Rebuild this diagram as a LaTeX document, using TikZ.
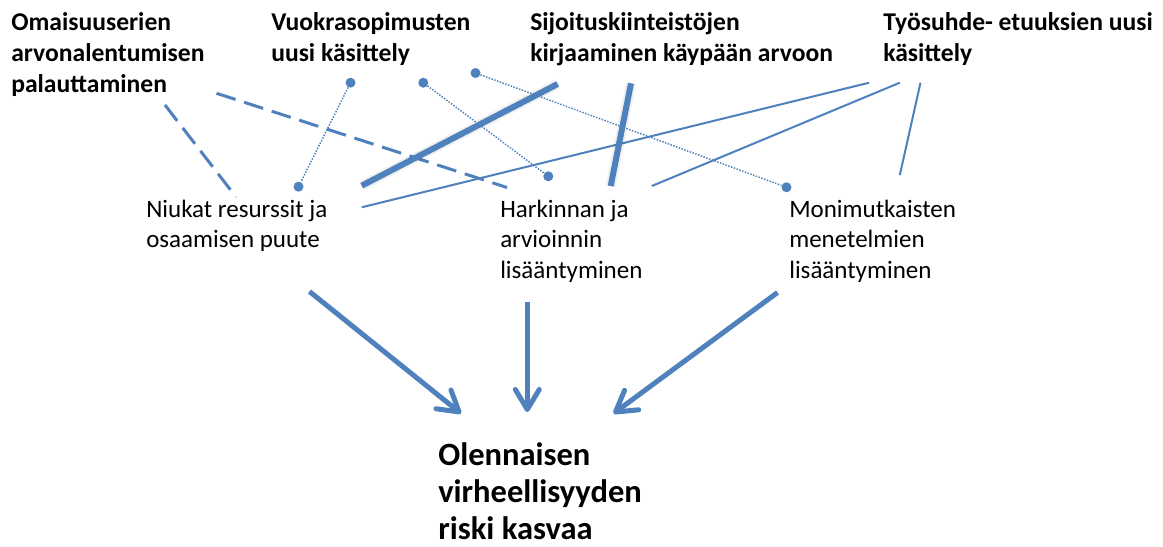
\documentclass[tikz,border=0pt]{standalone}
\usepackage{fontspec}
\setmainfont{Carlito}
\usetikzlibrary{arrows.meta}
\definecolor{pblue}{RGB}{79,129,189}
\begin{document}
\begin{tikzpicture}[x=0.75pt,y=-0.75pt,
  headlbl/.style={anchor=base west,inner sep=0pt,font=\bfseries\fontsize{19.2}{23}\selectfont},
  midlbl/.style={anchor=base west,inner sep=0pt,font=\fontsize{18.75}{23}\selectfont},
  risklbl/.style={anchor=base west,inner sep=0pt,font=\bfseries\fontsize{24.4}{28.1}\selectfont},
  link/.style={draw=pblue,line width=1.5pt},
  dashlink/.style={draw=pblue,line width=2.25pt,dash pattern=on 15pt off 6.75pt},
  dotlink/.style={draw=pblue,line width=1.1pt,dash pattern=on 1.1pt off 1.1pt},
  heavylink/.style={draw=pblue,line width=4.5pt},
  heavyshade/.style={draw=black,opacity=0.06,line width=7.5pt,shift={(1,1.5)}},
  dotend/.style={circle,fill=pblue,inner sep=0pt,minimum size=7.5pt},
  flow/.style={draw=pblue,line width=3.75pt,-{Straight Barb[length=15pt,width=18pt,round]}}
]
\useasboundingbox (0,0) rectangle (1163,546);
\fill[white] (0,0) rectangle (1163,546);

% labels
\node[headlbl] (omai) at (11,31) {\begin{tabular}[t]{@{}l@{}}Omaisuuserien\\arvonalentumisen\\palauttaminen\end{tabular}};
\node[headlbl] (vuok) at (271,31) {\begin{tabular}[t]{@{}l@{}}Vuokrasopimusten\\uusi käsittely\end{tabular}};
\node[headlbl] (sijo) at (530,31) {\begin{tabular}[t]{@{}l@{}}Sijoituskiinteistöjen\\kirjaaminen käypään arvoon\end{tabular}};
\node[headlbl] (tyos) at (883,31) {\begin{tabular}[t]{@{}l@{}}Työsuhde- etuuksien uusi\\käsittely\end{tabular}};
\node[midlbl] (niuk) at (146,217) {\begin{tabular}[t]{@{}l@{}}Niukat resurssit ja\\osaamisen puute\end{tabular}};
\node[midlbl] (hark) at (500,217) {\begin{tabular}[t]{@{}l@{}}Harkinnan ja\\arvioinnin\\lisääntyminen\end{tabular}};
\node[midlbl] (moni) at (789,217) {\begin{tabular}[t]{@{}l@{}}Monimutkaisten\\menetelmien\\lisääntyminen\end{tabular}};
\node[risklbl] (riski) at (438,465) {\begin{tabular}[t]{@{}l@{}}Olennaisen\\virheellisyyden\\riski kasvaa\end{tabular}};

% connector ends
\coordinate (o1) at (165,105);   \coordinate (n1) at (236,197);
\coordinate (o2) at (216.5,93.3); \coordinate (h1) at (507,187.5);
\coordinate (s1) at (557.7,84);  \coordinate (n3) at (361.7,185.7);
\coordinate (s2) at (631,83.3);  \coordinate (h3) at (610.7,186);
\coordinate (t1) at (869.2,82.7); \coordinate (n4) at (361.7,207.3);
\coordinate (t2) at (899.8,82.7); \coordinate (h4) at (651.8,186);
\coordinate (t3) at (920.5,82.7); \coordinate (m2) at (899.8,175);
\node[dotend] (v1) at (350.5,82.7) {};
\node[dotend] (n2) at (298.5,186.7) {};
\node[dotend] (v2) at (423.3,82.7) {};
\node[dotend] (h2) at (548.3,176.3) {};
\node[dotend] (v3) at (475.5,73) {};
\node[dotend] (m1) at (786.5,187.3) {};

% links
\draw[dashlink] (o1) -- (n1);
\draw[dashlink] (o2) -- (h1);
\draw[dotlink] (v1) -- (n2);
\draw[dotlink] (v2) -- (h2);
\draw[dotlink] (v3) -- (m1);
\draw[link] (t1) -- (n4);
\draw[link] (t2) -- (h4);
\draw[link] (t3) -- (m2);
\draw[heavyshade] (s1) -- (n3);
\draw[heavyshade] (s2) -- (h3);
\draw[heavylink] (s1) -- (n3);
\draw[heavylink] (s2) -- (h3);

% flows to the risk
\coordinate (a1) at (309.5,291.5); \coordinate (r1) at (461,413.5);
\coordinate (a2) at (527.3,301.5); \coordinate (r2) at (527.3,412);
\coordinate (a3) at (777.5,292.5); \coordinate (r3) at (613.5,413.5);
\draw[flow] (a1) -- (r1);
\draw[flow] (a2) -- (r2);
\draw[flow] (a3) -- (r3);
\end{tikzpicture}
\end{document}
